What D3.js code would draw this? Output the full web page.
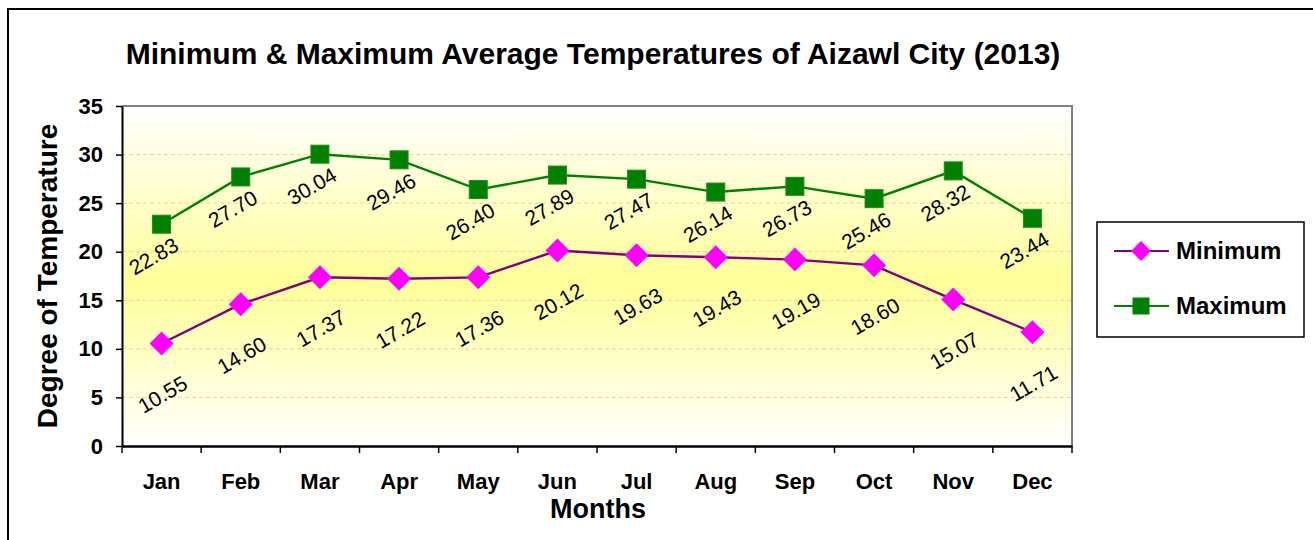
<!DOCTYPE html>
<html>
<head>
<meta charset="utf-8">
<script src="https://cdn.jsdelivr.net/npm/d3@7"></script>
<style>
  body { margin: 0; background: #fff; }
  svg { display: block; font-family: Arial, "Liberation Sans", sans-serif; }
</style>
</head>
<body>
<div id="chart"></div>
<script>
var months = ["Jan", "Feb", "Mar", "Apr", "May", "Jun", "Jul", "Aug", "Sep", "Oct", "Nov", "Dec"];
var minTemps = [10.55, 14.60, 17.37, 17.22, 17.36, 20.12, 19.63, 19.43, 19.19, 18.60, 15.07, 11.71];
var maxTemps = [22.83, 27.70, 30.04, 29.46, 26.40, 27.89, 27.47, 26.14, 26.73, 25.46, 28.32, 23.44];
var yTicks = [0, 5, 10, 15, 20, 25, 30, 35];

var width = 1313, height = 540;
var plot = {left: 122, top: 106, right: 1072, bottom: 446};

var svg = d3.select("#chart").append("svg")
  .attr("width", width)
  .attr("height", height);

// outer chart border (runs off the right and bottom edges)
svg.append("rect")
  .attr("x", 8).attr("y", 9)
  .attr("width", 1400).attr("height", 600)
  .attr("fill", "#fff")
  .attr("stroke", "#000")
  .attr("stroke-width", 2);

var x = d3.scaleBand().domain(months).range([plot.left, plot.right]).padding(0);
var y = d3.scaleLinear().domain([0, 35]).range([plot.bottom, plot.top]);

// background gradient of plot area
var grad = svg.append("defs").append("linearGradient")
  .attr("id", "bg").attr("x1", 0).attr("y1", 0).attr("x2", 0).attr("y2", 1);
grad.append("stop").attr("offset", "0%").attr("stop-color", "#ffffff");
grad.append("stop").attr("offset", "52%").attr("stop-color", "#ffff99");
grad.append("stop").attr("offset", "100%").attr("stop-color", "#ffffff");

svg.append("rect")
  .attr("x", plot.left).attr("y", plot.top)
  .attr("width", plot.right - plot.left).attr("height", plot.bottom - plot.top)
  .attr("fill", "url(#bg)");

// dashed gridlines
svg.append("g").selectAll("line")
  .data(yTicks.filter(function(d){ return d > 0 && d < 35; }))
  .enter().append("line")
  .attr("x1", plot.left).attr("x2", plot.right)
  .attr("y1", function(d){ return y(d); })
  .attr("y2", function(d){ return y(d); })
  .attr("stroke", "#fcc89a")
  .attr("stroke-width", 1)
  .attr("stroke-dasharray", "4,3");

// top and right plot border
svg.append("path")
  .attr("d", "M" + plot.left + "," + plot.top + "H" + plot.right + "V" + plot.bottom)
  .attr("fill", "none")
  .attr("stroke", "#808080")
  .attr("stroke-width", 2);

// y axis
var yAxis = svg.append("g")
  .attr("transform", "translate(" + plot.left + ",0)")
  .call(d3.axisLeft(y).tickValues(yTicks).tickSize(6).tickPadding(13).tickSizeOuter(0));
yAxis.select(".domain").attr("stroke", "#000").attr("stroke-width", 2);
yAxis.selectAll(".tick line").attr("stroke", "#000").attr("stroke-width", 1.5);
yAxis.selectAll(".tick text")
  .attr("font-family", "Arial, 'Liberation Sans', sans-serif")
  .attr("font-size", 22).attr("font-weight", "bold").attr("fill", "#000");

// x axis: ticks at band edges, labels at band centres
var xAxis = svg.append("g")
  .attr("transform", "translate(0," + plot.bottom + ")")
  .call(d3.axisBottom(x).tickSize(0).tickPadding(27).tickSizeOuter(0));
xAxis.select(".domain").attr("stroke", "#000").attr("stroke-width", 2.5);
xAxis.selectAll(".tick text")
  .attr("font-family", "Arial, 'Liberation Sans', sans-serif")
  .attr("font-size", 22).attr("font-weight", "bold").attr("fill", "#000");
xAxis.selectAll(".edge")
  .data(months.concat(["end"]))
  .enter().append("line")
  .attr("class", "edge")
  .attr("x1", function(d){ return d === "end" ? plot.right : x(d); })
  .attr("x2", function(d){ return d === "end" ? plot.right : x(d); })
  .attr("y1", 0).attr("y2", 7)
  .attr("stroke", "#000").attr("stroke-width", 1.5);

function cx(d, i){ return x(months[i]) + x.bandwidth() / 2; }

var lineGen = d3.line()
  .x(function(d, i){ return cx(d, i); })
  .y(function(d){ return y(d); });

// Maximum series
svg.append("path")
  .datum(maxTemps)
  .attr("d", lineGen)
  .attr("fill", "none")
  .attr("stroke", "#008000")
  .attr("stroke-width", 2.4);

svg.append("g").selectAll("rect")
  .data(maxTemps)
  .enter().append("rect")
  .attr("x", function(d, i){ return cx(d, i) - 9; })
  .attr("y", function(d){ return y(d) - 9; })
  .attr("width", 18).attr("height", 18)
  .attr("fill", "#008000")
  .attr("stroke", "#1f8a1f").attr("stroke-width", 1);

// Minimum series
svg.append("path")
  .datum(minTemps)
  .attr("d", lineGen)
  .attr("fill", "none")
  .attr("stroke", "#800080")
  .attr("stroke-width", 2.4);

var diamond = "M0,-12L12,0L0,12L-12,0Z";
svg.append("g").selectAll("path")
  .data(minTemps)
  .enter().append("path")
  .attr("d", diamond)
  .attr("transform", function(d, i){ return "translate(" + cx(d, i) + "," + y(d) + ")"; })
  .attr("fill", "#ff00ff");

// rotated data labels
function addLabels(values, dx, dy){
  svg.append("g").selectAll("text")
    .data(values)
    .enter().append("text")
    .attr("transform", function(d, i){
      return "translate(" + (cx(d, i) + dx) + "," + (y(d) + dy) + ") rotate(-30)";
    })
    .attr("text-anchor", "middle")
    .attr("dy", "0.35em")
    .attr("font-size", 21)
    .attr("fill", "#000")
    .text(function(d){ return d.toFixed(2); });
}
addLabels(maxTemps, -8, 32);
addLabels(minTemps, 1, 51);

// title
svg.append("text")
  .attr("x", 593).attr("y", 64)
  .attr("text-anchor", "middle")
  .attr("font-size", 30).attr("font-weight", "bold")
  .text("Minimum & Maximum Average Temperatures of Aizawl City (2013)");

// axis titles
svg.append("text")
  .attr("transform", "translate(57,276) rotate(-90)")
  .attr("text-anchor", "middle")
  .attr("font-size", 28).attr("font-weight", "bold")
  .text("Degree of Temperature");

svg.append("text")
  .attr("x", 598).attr("y", 518)
  .attr("text-anchor", "middle")
  .attr("font-size", 27).attr("font-weight", "bold")
  .text("Months");

// legend
var legend = svg.append("g").attr("transform", "translate(1097,222)");
legend.append("rect")
  .attr("width", 207).attr("height", 115)
  .attr("fill", "#fff").attr("stroke", "#000").attr("stroke-width", 1.5);

var legendItems = [
  {name: "Minimum", line: "#800080", fill: "#ff00ff", shape: "diamond"},
  {name: "Maximum", line: "#008000", fill: "#008000", shape: "square"}
];
var item = legend.selectAll(".item")
  .data(legendItems)
  .enter().append("g")
  .attr("class", "item")
  .attr("transform", function(d, i){ return "translate(0," + (29 + i * 55) + ")"; });
item.append("line")
  .attr("x1", 17).attr("x2", 72)
  .attr("stroke", function(d){ return d.line; })
  .attr("stroke-width", 2);
item.append("path")
  .attr("transform", "translate(44,0)")
  .attr("d", function(d){ return d.shape === "diamond" ? "M0,-10L10,0L0,10L-10,0Z" : "M-8.5,-8.5H8.5V8.5H-8.5Z"; })
  .attr("fill", function(d){ return d.fill; });
item.append("text")
  .attr("x", 79).attr("dy", "0.35em")
  .attr("font-size", 24).attr("font-weight", "bold")
  .text(function(d){ return d.name; });
</script>
</body>
</html>
